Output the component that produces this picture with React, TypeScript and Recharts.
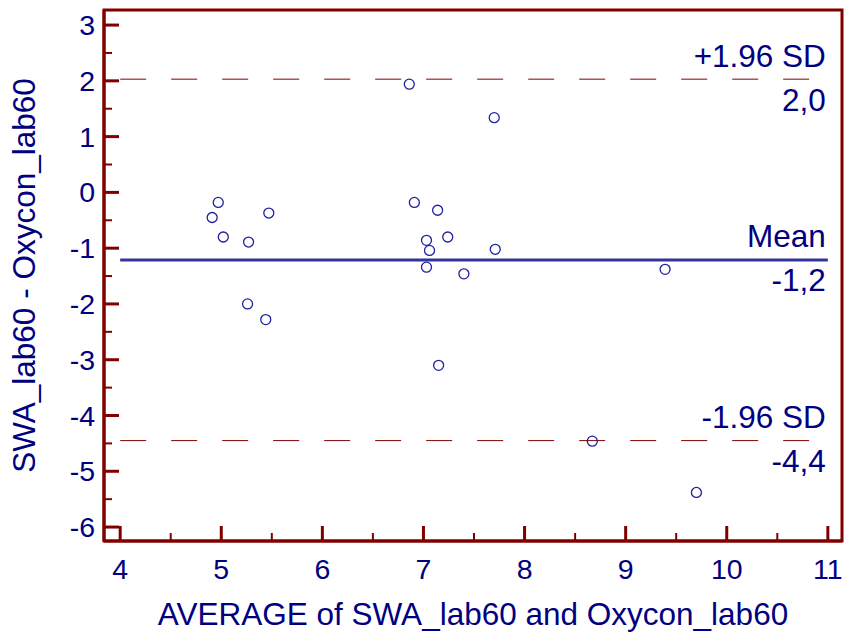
import { FC } from "react";
import {
  ScatterChart,
  Scatter,
  XAxis,
  YAxis,
  ReferenceLine,
  ReferenceArea,
  Label,
} from "recharts";

// average of the two methods (x) and their difference (y)
const avgValues = [
  6.86, 7.7, 4.97, 4.91, 5.02, 5.27, 5.47, 6.91, 7.14, 7.03, 7.06, 7.24, 7.71,
  7.03, 7.4, 5.26, 5.44, 7.15, 9.39, 8.67, 9.7,
];
const diffValues = [
  1.94, 1.34, -0.18, -0.45, -0.8, -0.89, -0.37, -0.18, -0.32, -0.86, -1.04,
  -0.8, -1.02, -1.34, -1.46, -2.0, -2.28, -3.1, -1.38, -4.46, -5.38,
];

const meanDiff = -1.21;
const upperLimit = 2.03;
const lowerLimit = -4.45;
const limitNames = ["+1.96 SD", "Mean", "-1.96 SD"];
const limitTexts = ["2,0", "-1,2", "-4,4"];

const xTicks = [4, 4.5, 5, 5.5, 6, 6.5, 7, 7.5, 8, 8.5, 9, 9.5, 10, 10.5, 11];
const yTicks = [
  -6, -5.5, -5, -4.5, -4, -3.5, -3, -2.5, -2, -1.5, -1, -0.5, 0, 0.5, 1, 1.5,
  2, 2.5, 3,
];
const xDomain = [3.84, 11.14];
const yDomain = [-6.25, 3.27];

const AXIS = "#800000";
const TEXT = "#000080";
const FONT = "'Liberation Sans', Arial, sans-serif";
const TICK_SIZE = 28.5;
const LABEL_SIZE = 31.5;

const data = avgValues.map((x, i) => ({ x, y: diffValues[i] }));

const YTick = (props: any) => {
  const { x, y, payload } = props;
  const major = Number.isInteger(payload.value);
  return (
    <g>
      <line
        x1={x}
        y1={y}
        x2={x + (major ? 15 : 8)}
        y2={y}
        stroke={AXIS}
        strokeWidth={major ? 3 : 2}
      />
      {major && (
        <text x={x - 9} y={y + 10} textAnchor="end" fill={TEXT} fontSize={TICK_SIZE}>
          {payload.value}
        </text>
      )}
    </g>
  );
};

const XTick = (props: any) => {
  const { x, y, payload } = props;
  const major = Number.isInteger(payload.value);
  return (
    <g>
      <line
        x1={x}
        y1={y}
        x2={x}
        y2={y - (major ? 15 : 8)}
        stroke={AXIS}
        strokeWidth={major ? 3 : 2}
      />
      {major && (
        <text x={x} y={y + 37.5} textAnchor="middle" fill={TEXT} fontSize={TICK_SIZE}>
          {payload.value}
        </text>
      )}
    </g>
  );
};

const limitLabel = (name: string, value: string) => (props: any) => {
  const { viewBox } = props;
  const right = viewBox.x + viewBox.width - 2;
  return (
    <g>
      <text x={right} y={viewBox.y - 12.5} textAnchor="end" fill={TEXT} fontSize={LABEL_SIZE}>
        {name}
      </text>
      <text x={right} y={viewBox.y + 31.5} textAnchor="end" fill={TEXT} fontSize={LABEL_SIZE}>
        {value}
      </text>
    </g>
  );
};

const Circle = (props: any) => {
  const { cx, cy } = props;
  return <circle cx={cx} cy={cy} r={5} fill="none" stroke="#2020a0" strokeWidth={1.3} />;
};

const BlandAltmanChart: FC = () => {
  return (
    <div style={{ position: "absolute", left: 0, top: 0, width: 847, height: 634 }}>
      <ScatterChart
        width={847}
        height={634}
        margin={{ top: 10, right: 5, bottom: 0, left: 0 }}
        style={{ fontFamily: FONT }}
      >
        <ReferenceArea
          x1={xDomain[0]}
          x2={xDomain[1]}
          y1={yDomain[0]}
          y2={yDomain[1]}
          fill="none"
          stroke={AXIS}
          strokeWidth={3}
          ifOverflow="visible"
        />
        <XAxis
          type="number"
          dataKey="x"
          domain={xDomain}
          ticks={xTicks}
          interval={0}
          allowDataOverflow
          height={93}
          tickSize={0}
          tickMargin={0}
          tickLine={false}
          tick={<XTick />}
          axisLine={{ stroke: AXIS, strokeWidth: 3 }}
        >
          <Label
            content={(p: any) => (
              <text
                x={p.viewBox.x + p.viewBox.width / 2}
                y={p.viewBox.y + 84}
                textAnchor="middle"
                fill={TEXT}
                fontSize={LABEL_SIZE}
              >
                AVERAGE of SWA_lab60 and Oxycon_lab60
              </text>
            )}
          />
        </XAxis>
        <YAxis
          type="number"
          dataKey="y"
          domain={yDomain}
          ticks={yTicks}
          interval={0}
          allowDataOverflow
          width={104}
          tickSize={0}
          tickMargin={0}
          tickLine={false}
          tick={<YTick />}
          axisLine={{ stroke: AXIS, strokeWidth: 3 }}
        >
          <Label
            content={(p: any) => {
              const cx = 35;
              const cy = p.viewBox.y + p.viewBox.height / 2;
              return (
                <text
                  x={cx}
                  y={cy}
                  transform={`rotate(-90, ${cx}, ${cy})`}
                  textAnchor="middle"
                  fill={TEXT}
                  fontSize={LABEL_SIZE}
                >
                  SWA_lab60 - Oxycon_lab60
                </text>
              );
            }}
          />
        </YAxis>
        <ReferenceLine
          segment={[
            { x: 4, y: upperLimit },
            { x: 11, y: upperLimit },
          ]}
          stroke={AXIS}
          strokeWidth={1}
          strokeDasharray="26 25"
          label={limitLabel(limitNames[0], limitTexts[0])}
        />
        <ReferenceLine
          segment={[
            { x: 4, y: meanDiff },
            { x: 11, y: meanDiff },
          ]}
          stroke="#33339c"
          strokeWidth={3}
          label={limitLabel(limitNames[1], limitTexts[1])}
        />
        <ReferenceLine
          segment={[
            { x: 4, y: lowerLimit },
            { x: 11, y: lowerLimit },
          ]}
          stroke={AXIS}
          strokeWidth={1}
          strokeDasharray="26 25"
          label={limitLabel(limitNames[2], limitTexts[2])}
        />
        <Scatter data={data} shape={<Circle />} isAnimationActive={false} />
      </ScatterChart>
    </div>
  );
};

export default BlandAltmanChart;
